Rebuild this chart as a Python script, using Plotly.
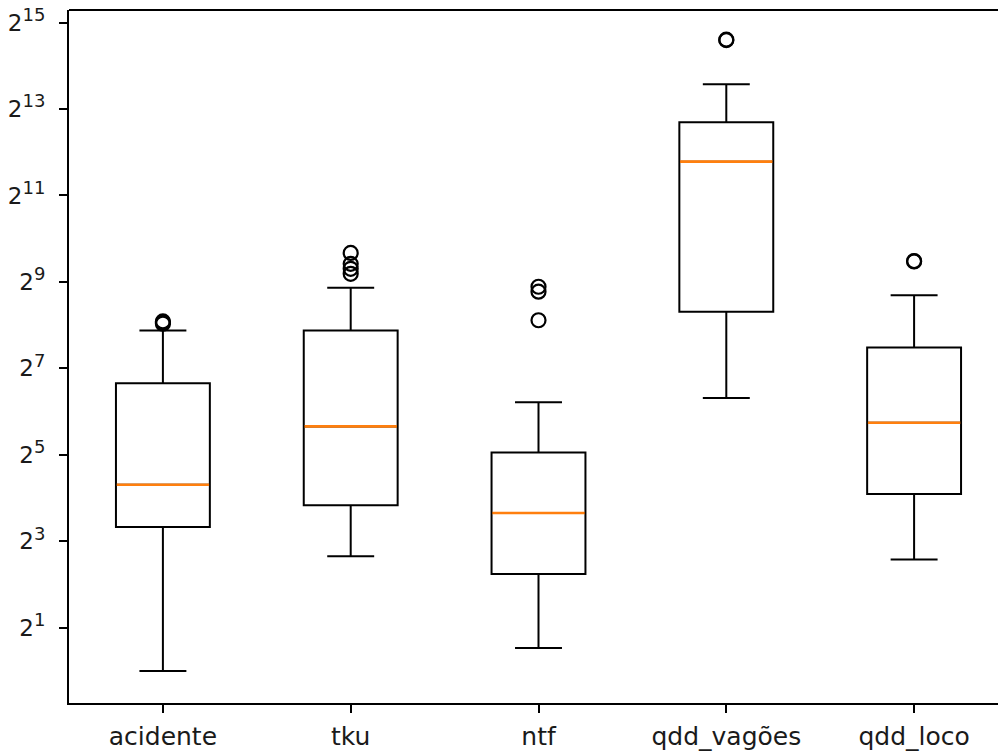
import plotly.graph_objects as go
import math

categories = ["acidente", "tku", "ntf", "qdd_vagões", "qdd_loco"]
positions = [1, 2, 3, 4, 5]
lower_whisker = [1.0, 6.3, 1.445, 79.7, 5.97]
q1_values = [10.06, 14.26, 4.73, 317.0, 17.1]
median_values = [19.8, 50.5, 12.6, 3522.0, 53.6]
q3_values = [100.8, 235.0, 33.2, 6617.0, 179.0]
upper_whisker = [234.6, 467.0, 74.4, 12200.0, 413.6]
outliers = [
    [262.0, 268.0, 272.0],
    [815.0, 684.0, 632.0, 583.0],
    [474.0, 438.0, 277.0],
    [24710.0, 24900.0],
    [711.0, 715.0],
]
ytick_exponents = [1, 3, 5, 7, 9, 11, 13, 15]

BOX_W = 0.5
fig = go.Figure()

for i, pos in enumerate(positions):
    fig.add_trace(go.Box(
        x=[pos], q1=[q1_values[i]], median=[median_values[i]], q3=[q3_values[i]],
        lowerfence=[lower_whisker[i]], upperfence=[upper_whisker[i]],
        boxpoints=False, width=BOX_W, whiskerwidth=0.5,
        line=dict(color="black", width=2), fillcolor="rgba(0,0,0,0)",
        showlegend=False, hoverinfo="skip",
    ))

# median lines (orange)
mx, my = [], []
for pos, m in zip(positions, median_values):
    mx += [pos - BOX_W / 2 + 0.004, pos + BOX_W / 2 - 0.004, None]
    my += [m, m, None]
fig.add_trace(go.Scatter(x=mx, y=my, mode="lines",
                         line=dict(color="#ff7f0e", width=2.6),
                         showlegend=False, hoverinfo="skip"))

# outliers
ox, oy = [], []
for pos, vals in zip(positions, outliers):
    for v in vals:
        ox.append(pos)
        oy.append(v)
fig.add_trace(go.Scatter(x=ox, y=oy, mode="markers",
                         marker=dict(symbol="circle-open", size=14,
                                     color="black", line=dict(width=2.2, color="black")),
                         showlegend=False, hoverinfo="skip"))

# top spine (matplotlib-style frame; right spine lies outside the visible window)
fig.add_shape(type="line", xref="paper", yref="paper", x0=0, x1=1, y0=1, y1=1,
              line=dict(color="black", width=2))

L2 = math.log10(2)
fig.update_layout(
    width=1008, height=751,
    margin=dict(l=69, r=0, t=10, b=44),
    paper_bgcolor="white", plot_bgcolor="white",
    font=dict(family="DejaVu Sans", size=22, color="#1a1a1a"),
    xaxis=dict(
        range=[0.5, 5.5],
        tickmode="array", tickvals=positions, ticktext=categories,
        showgrid=False, zeroline=False,
        showline=True, linecolor="black", linewidth=2, mirror=False,
        ticks="outside", ticklen=8, tickwidth=1.6, tickcolor="black",
        tickfont=dict(size=25),
        ticklabelstandoff=2,
        ticklabeloverflow="allow",
    ),
    yaxis=dict(
        type="log",
        range=[-0.74 * L2, 15.29 * L2],
        tickmode="array",
        tickvals=[2 ** e for e in ytick_exponents],
        ticktext=[f"2<sup><span style='font-size:18px'>{e}</span></sup>" for e in ytick_exponents],
        showgrid=False, zeroline=False,
        showline=True, linecolor="black", linewidth=2, mirror=False,
        ticks="outside", ticklen=8, tickwidth=1.6, tickcolor="black",
        tickfont=dict(size=23),
        ticklabelstandoff=9,
        ticklabeloverflow="allow",
    ),
)

fig.write_html(
    "out.html",
    config={"displayModeBar": False},
    post_script=(
        "document.body.style.margin='0';"
        "document.body.style.overflow='hidden';"
        "document.documentElement.style.overflow='hidden';"
    ),
)
